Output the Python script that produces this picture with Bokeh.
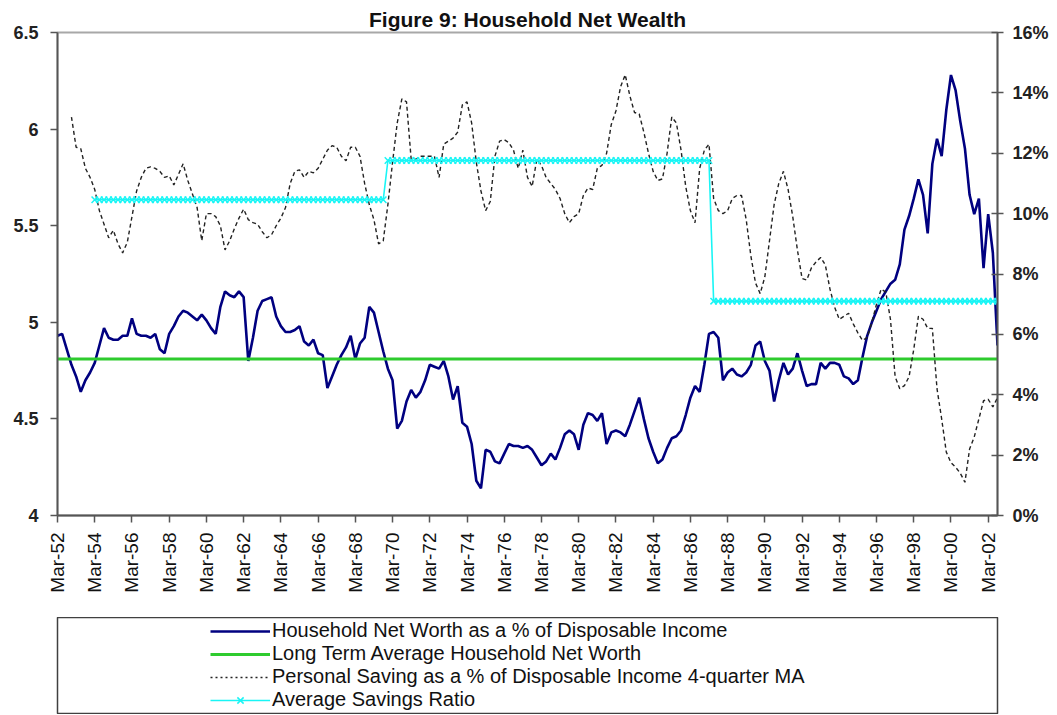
import math
from bokeh.plotting import figure
from bokeh.models import (Range1d, LinearAxis, FixedTicker, ColumnDataSource, Legend,
                          LegendItem, NumeralTickFormatter, PrintfTickFormatter)
from bokeh.layouts import column
from bokeh.embed import file_html
from bokeh.resources import INLINE

# ---------------- data ----------------
title_text = "Figure 9: Household Net Wealth"

tick_labels = ["Mar-52", "Mar-54", "Mar-56", "Mar-58", "Mar-60", "Mar-62", "Mar-64",
               "Mar-66", "Mar-68", "Mar-70", "Mar-72", "Mar-74", "Mar-76", "Mar-78",
               "Mar-80", "Mar-82", "Mar-84", "Mar-86", "Mar-88", "Mar-90", "Mar-92",
               "Mar-94", "Mar-96", "Mar-98", "Mar-00", "Mar-02"]
quarters_per_label = 8

series_names = ["Household Net Worth as a % of Disposable Income",
                "Long Term Average Household Net Worth",
                "Personal Saving as a % of Disposable Income 4-quarter MA",
                "Average Savings Ratio"]

# Household net worth / disposable income, quarterly from Mar-52 (left axis)
net_worth = [
    4.93, 4.94, 4.86, 4.78, 4.72, 4.64, 4.70, 4.74, 4.79, 4.88,
    4.97, 4.92, 4.91, 4.91, 4.93, 4.93, 5.02, 4.94, 4.93, 4.93,
    4.92, 4.94, 4.86, 4.84, 4.94, 4.98, 5.03, 5.06, 5.05, 5.03,
    5.01, 5.04, 5.01, 4.97, 4.94, 5.08, 5.16, 5.14, 5.13, 5.16,
    5.13, 4.80, 4.92, 5.06, 5.11, 5.12, 5.13, 5.03, 4.98, 4.95,
    4.95, 4.96, 4.98, 4.90, 4.88, 4.91, 4.84, 4.83, 4.66, 4.72,
    4.78, 4.83, 4.87, 4.93, 4.81, 4.89, 4.92, 5.08, 5.05, 4.95,
    4.85, 4.76, 4.70, 4.45, 4.49, 4.59, 4.65, 4.61, 4.64, 4.70,
    4.78, 4.77, 4.76, 4.80, 4.72, 4.60, 4.67, 4.48, 4.46, 4.37,
    4.18, 4.14, 4.34, 4.33, 4.28, 4.27, 4.32, 4.37, 4.36, 4.36,
    4.35, 4.36, 4.34, 4.30, 4.26, 4.28, 4.32, 4.29, 4.35, 4.42,
    4.44, 4.42, 4.34, 4.47, 4.53, 4.52, 4.49, 4.53, 4.37, 4.43,
    4.44, 4.43, 4.41, 4.47, 4.54, 4.61, 4.50, 4.40, 4.33, 4.27,
    4.29, 4.35, 4.40, 4.41, 4.44, 4.52, 4.61, 4.67, 4.64, 4.78,
    4.94, 4.95, 4.92, 4.70, 4.74, 4.76, 4.73, 4.72, 4.74, 4.78,
    4.88, 4.90, 4.80, 4.75, 4.59, 4.70, 4.79, 4.73, 4.76, 4.84,
    4.75, 4.67, 4.68, 4.68, 4.79, 4.76, 4.79, 4.79, 4.78, 4.72,
    4.71, 4.68, 4.70, 4.82, 4.93, 5.00, 5.06, 5.12, 5.16, 5.20,
    5.22, 5.30, 5.48, 5.55, 5.64, 5.74, 5.66, 5.46, 5.82, 5.95,
    5.86, 6.10, 6.28, 6.20, 6.04, 5.90, 5.66, 5.56, 5.64, 5.28,
    5.56, 5.36, 4.88,
]

long_term_average = 4.81

# Personal saving ratio, 4-quarter moving average (%), starts at Dec-52 (right axis)
nan = float("nan")
saving_ma = [
    nan, nan, nan, 13.2, 12.2, 12.15, 11.5, 11.2, 10.8, 10.1,
    9.65, 9.2, 9.45, 9.0, 8.7, 9.05, 9.9, 10.75, 11.2, 11.5,
    11.55, 11.5, 11.4, 11.2, 11.25, 10.95, 11.3, 11.65, 11.1, 10.65,
    10.2, 9.1, 10.0, 10.0, 9.9, 9.6, 8.8, 9.1, 9.5, 9.85,
    10.15, 9.8, 9.7, 9.65, 9.4, 9.2, 9.3, 9.6, 9.85, 10.2,
    11.0, 11.4, 11.45, 11.2, 11.4, 11.35, 11.5, 11.8, 12.1, 12.25,
    12.2, 11.9, 11.75, 12.2, 12.2, 11.9, 11.0, 10.3, 9.8, 9.0,
    9.1, 10.3, 11.7, 13.0, 13.8, 13.7, 11.8, 11.8, 11.9, 11.9,
    11.9, 11.9, 11.2, 12.3, 12.4, 12.5, 12.7, 13.6, 13.7, 13.0,
    11.7, 10.75, 10.1, 10.4, 11.9, 12.4, 12.45, 12.35, 12.1, 11.5,
    12.1, 11.2, 10.9, 11.8, 11.6, 11.2, 11.0, 10.8, 10.5, 10.0,
    9.7, 9.9, 10.0, 10.6, 10.85, 10.8, 11.5, 11.6, 12.0, 12.95,
    13.4, 14.2, 14.6, 13.9, 13.35, 13.3, 12.7, 12.0, 11.4, 11.1,
    11.15, 12.0, 13.2, 13.0, 12.1, 10.9, 10.1, 9.7, 11.5, 12.1,
    12.3, 10.5, 10.1, 10.0, 10.1, 10.5, 10.6, 10.6, 9.8, 8.6,
    7.7, 7.35, 7.9, 9.1, 10.3, 11.0, 11.4, 10.8, 9.9, 8.8,
    7.85, 7.8, 8.2, 8.4, 8.55, 8.3, 7.5, 6.9, 6.5, 6.6,
    6.7, 6.35, 6.05, 5.8, 5.9, 6.4, 7.0, 7.5, 7.4, 6.5,
    4.6, 4.2, 4.3, 4.6, 5.5, 6.6, 6.5, 6.2, 6.2, 4.2,
    3.2, 2.1, 1.75, 1.6, 1.4, 1.1, 2.2, 2.6, 3.2, 3.8,
    3.85, 3.6, 3.9,
]

# Average savings ratio by period (first quarter index, last quarter index, level %)
avg_period_start = [8, 71, 141]
avg_period_end = [70, 140, 202]
avg_period_level = [10.46, 11.76, 7.10]

# ---------------- build table ----------------
n = len(net_worth)
xs = list(range(n))
avg_savings = [nan] * n
for s, e, lv in zip(avg_period_start, avg_period_end, avg_period_level):
    for i in range(s, e + 1):
        avg_savings[i] = lv

src = ColumnDataSource(dict(x=xs, net=net_worth, lta=[long_term_average] * n,
                            sav=saving_ma, avgsav=avg_savings))

NAVY = "#000080"
GREEN = "#2ecb2e"
DASH = "#222222"
CYAN = "#19f5f5"
AXIS = "#555555"
FONT = "Liberation Sans"

# page layout (pixels)
W = 1057
H1, H2 = 617, 97                           # chart block, legend block
FL, FR, FT, FB = 57, 997, 32, 515          # plot frame edges

styles = dict(
    net=dict(line_color=NAVY, line_width=2.6),
    lta=dict(line_color=GREEN, line_width=3),
    sav=dict(line_color=DASH, line_width=1.4, line_dash="4 3"),
    avl=dict(line_color=CYAN, line_width=1.6),
    avm=dict(marker="x", size=9, line_color=CYAN, line_width=1.5),
)

# ---------------- main chart ----------------
p = figure(width=W, height=H1, x_range=Range1d(0, n - 1), y_range=Range1d(4, 6.5),
           output_backend="svg", toolbar_location=None, title=title_text,
           min_border_left=FL, min_border_right=W - FR, min_border_top=FT,
           min_border_bottom=H1 - FB)
p.extra_y_ranges = {"pct": Range1d(0, 16)}

p.title.align = "center"
p.title.text_font = FONT
p.title.text_font_size = "21px"
p.title.text_font_style = "bold"
p.title.text_color = "#111111"
p.title.standoff = 3

p.xgrid.visible = False
p.ygrid.visible = False
p.outline_line_color = "#a8a8a8"
p.outline_line_width = 2
p.background_fill_color = "white"
p.border_fill_color = "white"

xa = p.xaxis[0]
xa.ticker = FixedTicker(ticks=[k * quarters_per_label for k in range(len(tick_labels))])
xa.major_label_overrides = {k * quarters_per_label: lab for k, lab in enumerate(tick_labels)}
xa.major_label_orientation = math.pi / 2
xa.major_label_text_font = FONT
xa.major_label_text_font_size = "19px"
xa.major_label_text_color = "#111111"
xa.major_label_standoff = 10
xa.major_tick_in = 0
xa.major_tick_out = 7

ya = p.yaxis[0]
ya.ticker = FixedTicker(ticks=[4, 4.5, 5, 5.5, 6, 6.5])
ya.formatter = NumeralTickFormatter(format="0.[0]")
ya.major_label_text_font = FONT
ya.major_label_text_font_size = "18px"
ya.major_label_text_font_style = "bold"
ya.major_label_text_color = "#222222"
ya.major_label_standoff = 12
ya.major_tick_in = 0
ya.major_tick_out = 7

ra = LinearAxis(y_range_name="pct", ticker=FixedTicker(ticks=list(range(0, 17, 2))),
                formatter=PrintfTickFormatter(format="%d%%"))
ra.major_label_text_font = FONT
ra.major_label_text_font_size = "18px"
ra.major_label_text_font_style = "bold"
ra.major_label_text_color = "#222222"
ra.major_label_standoff = 9
ra.major_tick_in = 6
ra.major_tick_out = 6
p.add_layout(ra, "right")

for ax in (xa, ya, ra):
    ax.axis_line_color = AXIS
    ax.axis_line_width = 1.8
    ax.major_tick_line_color = AXIS
    ax.major_tick_line_width = 1.5
    ax.minor_tick_line_color = None

p.line("x", "net", source=src, **styles["net"])
p.line("x", "lta", source=src, **styles["lta"])
p.line("x", "sav", source=src, y_range_name="pct", **styles["sav"])
p.line("x", "avgsav", source=src, y_range_name="pct", **styles["avl"])
p.scatter("x", "avgsav", source=src, y_range_name="pct", **styles["avm"])

# ---------------- legend block ----------------
p2 = figure(width=W, height=H2, x_range=Range1d(0, 1), y_range=Range1d(0, 1),
            output_backend="svg", toolbar_location=None,
            min_border_left=FL, min_border_right=W - FR, min_border_top=0,
            min_border_bottom=0, x_axis_location=None, y_axis_location=None)
p2.xgrid.visible = False
p2.ygrid.visible = False
p2.outline_line_color = "#404040"
p2.outline_line_width = 1.5
p2.background_fill_color = "white"
p2.border_fill_color = "white"

# legend-only renderers (one undefined point each, so nothing is drawn in the box)
key_src = ColumnDataSource(dict(x=[nan], y=[nan]))
k1 = p2.line("x", "y", source=key_src, **styles["net"])
k2 = p2.line("x", "y", source=key_src, **styles["lta"])
k3 = p2.line("x", "y", source=key_src, line_color=DASH, line_width=1.4, line_dash="2 3")
k4 = p2.line("x", "y", source=key_src, **styles["avl"])
k5 = p2.scatter("x", "y", source=key_src, **styles["avm"])

ROW_H = 22
LEG_TOP_GAP = 6
legend = Legend(items=[LegendItem(label=series_names[0], renderers=[k1]),
                       LegendItem(label=series_names[1], renderers=[k2]),
                       LegendItem(label=series_names[2], renderers=[k3]),
                       LegendItem(label=series_names[3], renderers=[k4, k5])],
                location=(210 - FL, H2 - LEG_TOP_GAP - 4 * ROW_H))
legend.padding = 0
legend.margin = 0
legend.spacing = 0
legend.glyph_width = 60
legend.glyph_height = ROW_H
legend.label_height = ROW_H
legend.label_standoff = 2
legend.label_text_font = FONT
legend.label_text_font_size = "20px"
legend.label_text_color = "#111111"
legend.border_line_color = None
legend.background_fill_alpha = 0
p2.add_layout(legend)

layout = column(p, p2, spacing=0)

open("out.html", "w").write(file_html(layout, INLINE))
